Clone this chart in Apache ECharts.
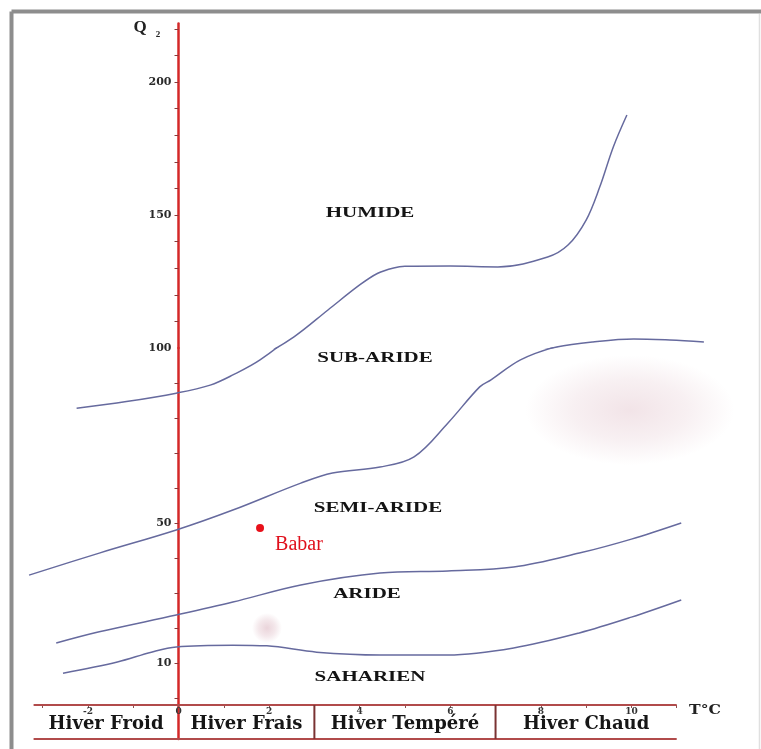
<!DOCTYPE html>
<html>
<head>
<meta charset="utf-8">
<script src="https://cdn.jsdelivr.net/npm/echarts@6/dist/echarts.min.js"></script>
<style>
  html, body { margin: 0; padding: 0; background: #ffffff; }
  #chart { width: 761px; height: 749px; }
</style>
</head>
<body>
<div id="chart"></div>
<script>
// Climagramme d'Emberger : Q2 en fonction de m (T°C, moyenne des minima du mois le plus froid)

// Limites entre étages bioclimatiques, points [T°C, Q2]
const limitHumide = [
  [-2.25, 82.8], [-1.15, 84.7], [-0.05, 87.1], [0.7, 89.4], [1.2, 92.3], [1.8, 96.6],
  [2.55, 104.2], [3.3, 114.3], [4.0, 123.7], [4.4, 128.1], [4.75, 130.1], [5.0, 130.7],
  [6.0, 130.8], [7.05, 130.5], [8.15, 134.2], [8.6, 138.7], [9.0, 148.1], [9.3, 160.5],
  [9.6, 175.6], [9.9, 187.6]
];
const limitSubAride = [
  [-3.3, 35.1], [-1.75, 41.4], [-0.05, 48.0], [1.2, 53.7], [2.7, 61.4], [3.4, 64.3],
  [4.45, 66.0], [5.2, 68.9], [5.95, 78.6], [6.65, 88.9], [6.9, 90.9], [7.55, 96.6],
  [8.35, 100.4], [9.15, 102.3], [10.05, 103.4], [10.85, 103.0], [11.6, 102.3]
];
const limitSemiAride = [
  [-2.7, 15.7], [-1.75, 18.9], [-0.05, 23.7], [1.2, 27.4], [2.7, 32.3], [4.45, 35.7],
  [5.95, 36.3], [7.4, 37.4], [8.85, 41.4], [10.0, 45.4], [11.1, 50.0]
];
const limitAride = [
  [-2.55, 7.1], [-1.35, 10.3], [-0.6, 13.1], [-0.05, 14.6], [1.2, 15.1], [1.95, 14.9],
  [3.05, 13.1], [4.45, 12.3], [5.95, 12.3], [7.4, 14.3], [8.85, 18.6], [10.0, 23.1],
  [11.1, 28.0]
];

// Station
const stationNames = ['Babar'];
const stationValues = [[1.8, 48.6]];

// Étages et variantes thermiques
const zoneNames = ['HUMIDE', 'SUB-ARIDE', 'SEMI-ARIDE', 'ARIDE', 'SAHARIEN'];
const winterNames = ['Hiver Froid', 'Hiver Frais', 'Hiver Tempéré', 'Hiver Chaud'];
const winterBounds = [-3.2, 0, 3, 7, 11];

// Graduations
const tempTicks = [-2, 0, 2, 4, 6, 8, 10];
const q2TicksUpper = [100, 150, 200];
const q2TicksLower = [10, 50];

// ---------------------------------------------------------------
const serif = '"Liberation Serif", "Times New Roman", serif';
const wideSerif = '"DejaVu Serif", serif';
const curveColor = '#666a9e';
const axisRed = '#d42828';
const bandRed = '#b14b4b';

function steps(from, to, step) {
  const out = [];
  for (let v = from; v <= to + 1e-9; v += step) out.push(v);
  return out;
}

const plotLeft = 20;
const plotWidth = 702;
const xRange = { min: -3.5, max: 12 };
// the Q2 axis stands on T = 0 °C
const axisShift = -plotWidth * (0 - xRange.min) / (xRange.max - xRange.min);

const hiddenX = (gi) => ({
  type: 'value', gridIndex: gi, min: xRange.min, max: xRange.max, show: false,
  axisLine: { onZero: false }
});

const redLine = { show: true, onZero: false, lineStyle: { color: axisRed, width: 2.5 } };
const yLabel = {
  fontFamily: wideSerif, fontWeight: 'bold', fontSize: 11, color: '#2a2a2a',
  margin: 7, showMinLabel: true, showMaxLabel: true
};
const yTick = { show: true, length: 4, lineStyle: { color: '#8a3a3a', width: 1 } };

function curveSeries(data, withUpper) {
  const base = {
    type: 'line', data: data, smooth: 0.35, symbol: 'none', showSymbol: false,
    lineStyle: { color: curveColor, width: 1.5 }, clip: true, silent: true, z: 3
  };
  const list = [Object.assign({}, base, { xAxisIndex: 1, yAxisIndex: 1 })];
  if (withUpper) list.push(Object.assign({}, base, { xAxisIndex: 0, yAxisIndex: 0 }));
  return list;
}

const last = winterBounds.length - 1;
const bandEdge = (y) => ({
  type: 'line', xAxisIndex: 2, yAxisIndex: 2, symbol: 'none', clip: false, silent: true,
  data: [[winterBounds[0], y], [winterBounds[last], y]],
  lineStyle: { color: bandRed, width: 2 }
});
const separators = winterBounds.slice(2, last).map((b) => ({
  type: 'line', xAxisIndex: 2, yAxisIndex: 2, symbol: 'none', clip: false, silent: true,
  data: [[b, 0], [b, 1]],
  lineStyle: { color: '#7a3333', width: 2 }
}));
const winterLabels = {
  type: 'scatter', xAxisIndex: 2, yAxisIndex: 2, symbolSize: 0, silent: true,
  itemStyle: { opacity: 1 },
  data: winterNames.map((n, i) => ({ name: n, value: [(winterBounds[i] + winterBounds[i + 1]) / 2, 0.42] })),
  label: {
    show: true, position: 'inside', formatter: '{b}', opacity: 1,
    fontFamily: wideSerif, fontWeight: 'bold', fontSize: 18, color: '#161616'
  }
};

const stationSeries = {
  type: 'scatter', xAxisIndex: 1, yAxisIndex: 1, symbol: 'circle', symbolSize: 8,
  itemStyle: { color: '#e8101a', opacity: 1 }, z: 5,
  data: stationValues.map((v, i) => ({ name: stationNames[i], value: v })),
  label: {
    show: true, formatter: '{b}', position: 'right', distance: 11, offset: [0, 17], opacity: 1,
    fontFamily: serif, fontSize: 20, color: '#e0101c'
  }
};

// Zone names and decorations
const zoneAnchors = [[370, 213], [375, 358], [378, 508], [367, 594], [370, 677]];
function zoneText(name, i) {
  return {
    type: 'text', x: zoneAnchors[i][0], y: zoneAnchors[i][1], scaleX: 1.5, z: 10,
    style: {
      text: name, font: 'bold 14px ' + serif, fill: '#141414',
      align: 'center', verticalAlign: 'middle', textAlign: 'center', textVerticalAlign: 'middle'
    }
  };
}

function stain(cx, cy, r, sx, alpha) {
  return {
    type: 'circle', x: cx, y: cy, scaleX: sx, shape: { cx: 0, cy: 0, r: r }, z: -1, silent: true,
    style: {
      fill: {
        type: 'radial', x: 0.5, y: 0.5, r: 0.5,
        colorStops: [
          { offset: 0, color: 'rgba(214,170,182,' + alpha + ')' },
          { offset: 0.55, color: 'rgba(214,170,182,' + (alpha * 0.55) + ')' },
          { offset: 1, color: 'rgba(214,170,182,0)' }
        ]
      }
    }
  };
}

const option = {
  animation: false,
  backgroundColor: '#ffffff',
  grid: [
    { left: plotLeft, width: plotWidth, top: 23.5, height: 324.5, outerBoundsMode: 'none', containLabel: false },
    { left: plotLeft, width: plotWidth, top: 348, height: 357, outerBoundsMode: 'none', containLabel: false },
    { left: plotLeft, width: plotWidth, top: 705, height: 34, outerBoundsMode: 'none', containLabel: false }
  ],
  xAxis: [
    hiddenX(0),
    hiddenX(1),
    {
      type: 'value', gridIndex: 2, min: xRange.min, max: xRange.max, position: 'top',
      axisLine: { show: false, onZero: false },
      splitLine: { show: false },
      axisTick: {
        show: true, inside: true, length: 3, customValues: steps(-3, 11, 1),
        lineStyle: { color: '#8a5050', width: 1 }
      },
      axisLabel: {
        inside: true, margin: 2, customValues: tempTicks,
        fontFamily: wideSerif, fontWeight: 'bold', fontSize: 9, color: '#333'
      }
    }
  ],
  yAxis: [
    {
      type: 'value', gridIndex: 0, min: 100, max: 222, position: 'left', offset: axisShift,
      axisLine: redLine, splitLine: { show: false },
      axisTick: Object.assign({ customValues: steps(110, 220, 10) }, yTick),
      axisLabel: Object.assign({ customValues: q2TicksUpper }, yLabel)
    },
    {
      type: 'value', gridIndex: 1, min: -2, max: 100, position: 'left', offset: axisShift,
      axisLine: redLine, splitLine: { show: false },
      axisTick: Object.assign({ customValues: steps(0, 90, 10) }, yTick),
      axisLabel: Object.assign({ customValues: q2TicksLower }, yLabel)
    },
    {
      type: 'value', gridIndex: 2, min: 0, max: 1, position: 'left', offset: axisShift,
      axisLine: redLine, splitLine: { show: false },
      axisTick: { show: false }, axisLabel: { show: false }
    }
  ],
  graphic: [
    // faded stains on the sheet
    stain(630, 410, 55, 1.9, 0.32),
    stain(267, 628, 15, 1, 0.5),
    // frame
    { type: 'line', shape: { x1: 11.5, y1: 11.5, x2: 761, y2: 11.5 }, style: { stroke: '#8d8d8d', lineWidth: 4 } },
    { type: 'line', shape: { x1: 11.5, y1: 11.5, x2: 11.5, y2: 749 }, style: { stroke: '#8d8d8d', lineWidth: 4 } },
    { type: 'line', shape: { x1: 759.5, y1: 14, x2: 759.5, y2: 749 }, style: { stroke: '#e0e0e0', lineWidth: 1.5 } },
    // axis names
    {
      type: 'text', x: 140, y: 28, z: 10,
      style: { text: 'Q', font: 'bold 17px ' + serif, fill: '#222', align: 'center', verticalAlign: 'middle', textAlign: 'center', textVerticalAlign: 'middle' }
    },
    {
      type: 'text', x: 158, y: 35, z: 10,
      style: { text: '2', font: 'bold 9px ' + serif, fill: '#222', align: 'center', verticalAlign: 'middle', textAlign: 'center', textVerticalAlign: 'middle' }
    },
    {
      type: 'text', x: 705, y: 711, scaleX: 1.3, z: 10,
      style: { text: 'T°C', font: 'bold 12px ' + wideSerif, fill: '#222', align: 'center', verticalAlign: 'middle', textAlign: 'center', textVerticalAlign: 'middle' }
    }
  ].concat(zoneNames.map(zoneText)),
  series: [].concat(
    curveSeries(limitHumide, true),
    curveSeries(limitSubAride, true),
    curveSeries(limitSemiAride, false),
    curveSeries(limitAride, false),
    [bandEdge(1), bandEdge(0)],
    separators,
    [winterLabels, stationSeries]
  )
};

const chart = echarts.init(document.getElementById('chart'), null, { renderer: 'canvas' });
chart.setOption(option);
</script>
</body>
</html>
